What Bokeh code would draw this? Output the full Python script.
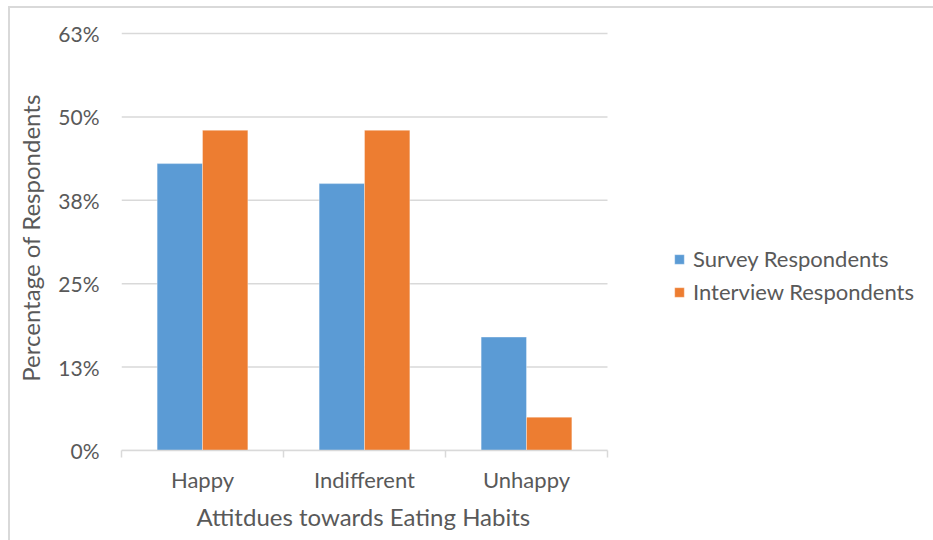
from bokeh.plotting import figure
from bokeh.models import FixedTicker, Legend, LegendItem, ColumnDataSource, Title
from bokeh.embed import file_html
from bokeh.resources import INLINE

categories = ["Happy", "Indifferent", "Unhappy"]
survey = [43, 40, 17]
interview = [48, 48, 5]
y_ticks = [0, 12.5, 25, 37.5, 50, 62.5]
y_tick_labels = ["0%", "13%", "25%", "38%", "50%", "63%"]
x_title = "Attitdues towards Eating Habits"
y_title = "Percentage of Respondents"

FONT = "Lato"
TXT = "#595959"
GRID = "#d9d9d9"
BLUE = "#5B9BD5"
ORANGE = "#ED7D31"

n = len(categories)
idx = list(range(n))
src = ColumnDataSource(dict(
    xs=[i + 0.5 - 0.14 for i in idx],
    xi=[i + 0.5 + 0.14 for i in idx],
    survey=survey, interview=interview))

# layout (page offset of 10,8 comes from the CSS border/margin)
CAT_PX = 162          # pixel width of one category slot
FRAME_W = 812         # frame extends to the right edge to hold the legend
FRAME_H = 425
AXIS_TOP_PX = 417     # pixels from 0 to 62.5
y_max = y_ticks[-1] * FRAME_H / AXIS_TOP_PX
x_max = FRAME_W / CAT_PX

p = figure(width=923, height=532, output_backend="svg", toolbar_location=None,
           x_range=(0, x_max), y_range=(0, y_max),
           frame_width=FRAME_W, frame_height=FRAME_H,
           min_border_left=111, min_border_right=0,
           min_border_top=17, min_border_bottom=90,
           background_fill_color="white", border_fill_color="white")
p.outline_line_color = None
p.styles = {"margin-left": "8px", "margin-top": "6px",
            "border-left": "2px solid #d9d9d9", "border-top": "2px solid #d9d9d9"}

# horizontal gridlines limited to the category area
p.segment(x0=0, x1=n, y0=y_ticks, y1=y_ticks, line_color=GRID, line_width=1.5, level="underlay")

r1 = p.vbar(x="xs", top="survey", width=0.28, source=src, fill_color=BLUE,
            line_color="white", line_alpha=0.35, line_width=1)
r2 = p.vbar(x="xi", top="interview", width=0.28, source=src, fill_color=ORANGE,
            line_color="white", line_alpha=0.35, line_width=1)

# y axis
ya = p.yaxis[0]
ya.ticker = FixedTicker(ticks=y_ticks)
ya.major_label_overrides = {t: l for t, l in zip(y_ticks, y_tick_labels)}
ya.axis_line_color = None
ya.major_tick_line_color = None
ya.minor_tick_line_color = None
ya.major_tick_out = 0
ya.major_tick_in = 0
ya.major_label_standoff = 22
ya.major_label_text_font = FONT
ya.major_label_text_font_size = "21px"
ya.major_label_text_color = TXT
ya.axis_label = y_title
ya.axis_label_text_font = FONT
ya.axis_label_text_font_size = "24px"
ya.axis_label_text_font_style = "normal"
ya.axis_label_text_color = TXT
ya.axis_label_standoff = 10

# x axis
xa = p.xaxis[0]
xa.bounds = (0, n)
xa.ticker = FixedTicker(ticks=[i + 0.5 for i in idx], minor_ticks=list(range(n + 1)))
xa.major_label_overrides = {i + 0.5: c for i, c in zip(idx, categories)}
xa.axis_line_color = GRID
xa.axis_line_width = 1.5
xa.major_tick_line_color = None
xa.major_tick_out = 0
xa.major_tick_in = 0
xa.minor_tick_line_color = GRID
xa.minor_tick_line_width = 1.5
xa.minor_tick_out = 7
xa.minor_tick_in = 0
xa.major_label_standoff = 8
xa.major_label_text_font = FONT
xa.major_label_text_font_size = "22px"
xa.major_label_text_color = TXT

p.xgrid.grid_line_color = None
p.ygrid.grid_line_color = None

# x axis title, centred under the category area
xt = Title(text=x_title, align="left", offset=75, standoff=9,
           text_font=FONT, text_font_size="24px", text_font_style="normal",
           text_color=TXT)
p.add_layout(xt, "below")

legend = Legend(items=[LegendItem(label="Survey Respondents", renderers=[r1]),
                       LegendItem(label="Interview Respondents", renderers=[r2])],
                location=(552, 145), orientation="vertical",
                padding=0, margin=0, spacing=6,
                glyph_width=12, glyph_height=12, label_height=20,
                label_standoff=8, label_text_font=FONT, label_text_font_size="22px",
                label_text_color=TXT, border_line_color=None, background_fill_alpha=0)
p.add_layout(legend, "center")

open("out.html", "w").write(file_html(p, INLINE))
